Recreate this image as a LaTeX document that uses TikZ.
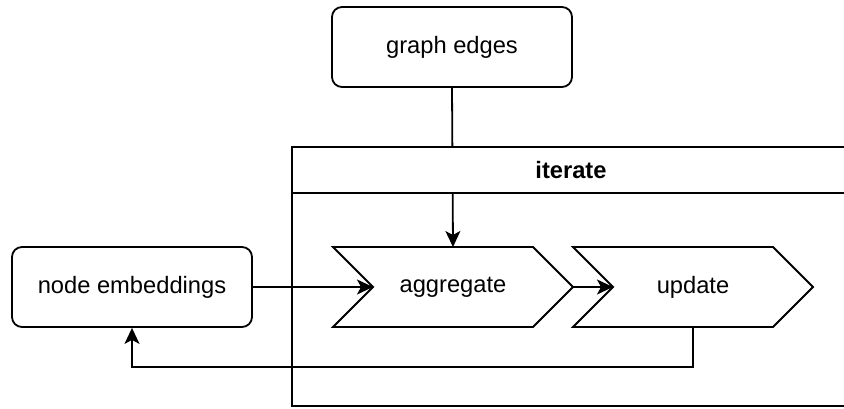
\documentclass[tikz,border=0pt]{standalone}
\usepackage{fontspec}
\setmainfont{Liberation Sans}
\usetikzlibrary{arrows.meta}
\begin{document}
\begin{tikzpicture}[x=1pt,y=-1pt,line width=1.8pt,
  font=\fontsize{23.7}{28}\selectfont,
  box/.style={draw,rounded corners=10pt,minimum width=240pt,minimum height=80pt,inner sep=0pt},
  label/.style={inner sep=0pt},
  arr/.style={-{Stealth[length=16pt,width=15pt,inset=4pt]}}]
\useasboundingbox (0,0) rectangle (844,408);

% input boxes
\node[box] (edges) at (452,47) {graph edges};
\node[box] (emb) at (132,287) {node embeddings};

% chevron steps
\draw (333,247) -- (533,247) -- (573,287) -- (533,327) -- (333,327) -- (373,287) -- cycle;
\draw (573,247) -- (773,247) -- (813,287) -- (773,327) -- (573,327) -- (613,287) -- cycle;
\node[label] (agg) at (453,287) {aggregate};
\node[label] (upd) at (693,287) {update};
\coordinate (aggIn) at (373,287);
\coordinate (aggTop) at (453,247);
\coordinate (aggOut) at (573,287);
\coordinate (updIn) at (613,287);
\coordinate (updBot) at (693,327);

% edges feed into aggregate (passes behind the header band)
\draw[arr] (edges.south) -- (aggTop);

% iterate container, running off the right side
\begin{scope}
\clip (0,0) rectangle (844,408);
\draw[fill=white] (292,147) rectangle (850,193);
\draw (292,193) rectangle (850,406);
\end{scope}
\node[label,font=\fontsize{23.7}{28}\selectfont\bfseries] (iter) at (571,170) {iterate};

% data flow
\draw[arr] (emb.east) -- (aggIn);
\draw[arr] (aggOut) -- (updIn);
\draw[arr] (updBot) -- ++(0,40) -| (emb.south);
\end{tikzpicture}
\end{document}
